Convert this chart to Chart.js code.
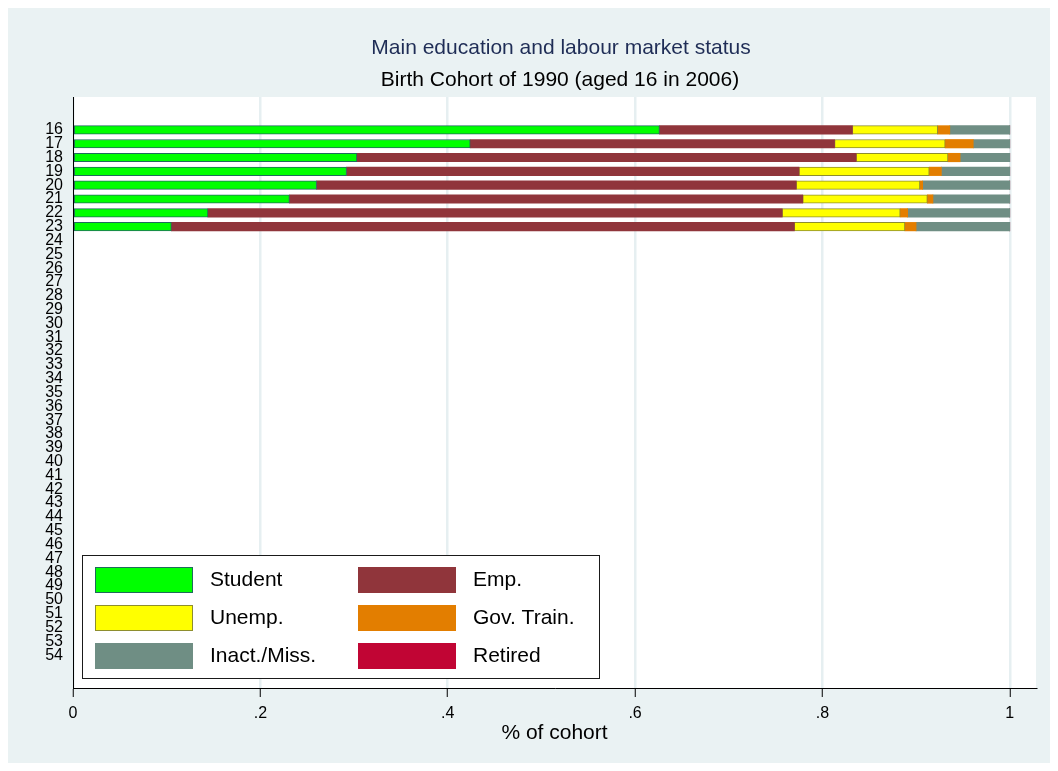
<!DOCTYPE html>
<html>
<head>
<meta charset="utf-8">
<script src="https://cdn.jsdelivr.net/npm/chart.js@4.4.1/dist/chart.umd.min.js"></script>
<style>
  html, body { margin: 0; padding: 0; background: #ffffff; }
  #wrap { width: 1058px; height: 771px; }
</style>
</head>
<body>
<div id="wrap"><canvas id="c" width="1058" height="771"></canvas></div>
<script>
// ---- data ----
const ages = [16, 17, 18, 19, 20, 21, 22, 23];
const student  = [0.626, 0.424, 0.303, 0.292, 0.260, 0.231, 0.144, 0.105];
const emp      = [0.206, 0.389, 0.533, 0.483, 0.512, 0.548, 0.613, 0.665];
const unemp    = [0.091, 0.118, 0.098, 0.139, 0.132, 0.133, 0.126, 0.118];
const govTrain = [0.013, 0.030, 0.013, 0.013, 0.003, 0.006, 0.008, 0.012];
const inact    = [0.064, 0.039, 0.053, 0.073, 0.093, 0.082, 0.109, 0.100];
const retired  = [0, 0, 0, 0, 0, 0, 0, 0];
const ageTickLabels = [16, 17, 18, 19, 20, 21, 22, 23, 24, 25, 26, 27, 28, 29, 30, 31, 32, 33, 34, 35,
                       36, 37, 38, 39, 40, 41, 42, 43, 44, 45, 46, 47, 48, 49, 50, 51, 52, 53, 54];
const xTickValues = [0, 0.2, 0.4, 0.6, 0.8, 1];
const xTickLabels = ['0', '.2', '.4', '.6', '.8', '1'];
const seriesNames = ['Student', 'Emp.', 'Unemp.', 'Gov. Train.', 'Inact./Miss.', 'Retired'];
const titleText = 'Main education and labour market status';
const subtitleText = 'Birth Cohort of 1990 (aged 16 in 2006)';
const xTitle = '% of cohort';

// ---- styles ----
const FONT = '"Liberation Sans", Arial, Helvetica, sans-serif';
const BG = '#EAF2F3';
const fills   = ['#00FF00', '#90353B', '#FFFF00', '#E37E00', '#6F8E84', '#C10534'];
const borders = ['#1F6B5C', '#90353B', '#8E8E2E', '#E37E00', '#6F8E84', '#C10534'];
const bw      = [1, 0, 1, 0, 0, 0];
const seriesData = [student, emp, unemp, govTrain, inact, retired];

const datasets = seriesNames.map((name, i) => ({
  label: name,
  data: seriesData[i],
  backgroundColor: fills[i],
  borderColor: borders[i],
  borderWidth: bw[i],
  borderSkipped: false,
  barThickness: 8.5
}));

const bgPlugin = {
  id: 'bgPlugin',
  beforeDraw(chart) {
    const ctx = chart.ctx, a = chart.chartArea;
    ctx.save();
    ctx.fillStyle = '#ffffff';
    ctx.fillRect(0, 0, chart.width, chart.height);
    ctx.fillStyle = BG;
    ctx.fillRect(8, 8, chart.width - 16, chart.height - 16);
    ctx.fillStyle = '#ffffff';
    ctx.fillRect(a.left, a.top, a.right - a.left, a.bottom - a.top);
    ctx.restore();
  },
  afterDraw(chart) {
    const ctx = chart.ctx;
    ctx.save();
    ctx.textAlign = 'center';
    ctx.textBaseline = 'middle';
    ctx.font = '21px ' + FONT;
    ctx.fillStyle = '#1F2D56';
    ctx.fillText(titleText, 561, 48);
    ctx.fillStyle = '#000000';
    ctx.fillText(subtitleText, 560, 80);
    ctx.restore();
  }
};

const legendPlugin = {
  id: 'boxLegend',
  afterDatasetsDraw(chart) {
    const ctx = chart.ctx, a = chart.chartArea;
    const bx = a.left + 9, by = a.bottom - 133, bwid = 517, bh = 123;
    ctx.save();
    ctx.fillStyle = '#ffffff';
    ctx.fillRect(bx, by, bwid, bh);
    ctx.strokeStyle = '#1a1a1a';
    ctx.lineWidth = 1;
    ctx.strokeRect(bx + 0.5, by + 0.5, bwid, bh);
    ctx.font = '21px ' + FONT;
    ctx.textBaseline = 'middle';
    ctx.textAlign = 'left';
    chart.data.datasets.forEach((ds, i) => {
      const col = i % 2, row = Math.floor(i / 2);
      const sx = bx + 13 + col * 263;
      const sy = by + 12 + row * 38;
      ctx.fillStyle = ds.backgroundColor;
      ctx.fillRect(sx, sy, 98, 26);
      if (ds.borderWidth) {
        ctx.strokeStyle = ds.borderColor;
        ctx.lineWidth = 1;
        ctx.strokeRect(sx + 0.5, sy + 0.5, 97, 25);
      }
      ctx.fillStyle = '#000000';
      ctx.fillText(ds.label, sx + 115, sy + 13);
    });
    ctx.restore();
  }
};

new Chart(document.getElementById('c'), {
  type: 'bar',
  data: { labels: ages, datasets },
  plugins: [bgPlugin, legendPlugin],
  options: {
    indexAxis: 'y',
    responsive: false,
    animation: false,
    devicePixelRatio: 1,
    layout: { padding: { top: 97, left: 0, right: 22, bottom: 0 } },
    plugins: {
      legend: { display: false },
      tooltip: { enabled: false },
      title: { display: false },
      subtitle: { display: false }
    },
    scales: {
      x: {
        type: 'linear',
        stacked: true,
        min: 0,
        max: 1.028,
        offset: false,
        afterBuildTicks(scale) { scale.ticks = xTickValues.map(v => ({ value: v })); },
        afterFit(scale) { scale.height = 83; },
        ticks: {
          autoSkip: false,
          maxRotation: 0,
          color: '#000000',
          padding: 7,
          font: { family: FONT, size: 16 },
          callback: (v) => xTickLabels[xTickValues.indexOf(v)] ?? ''
        },
        grid: {
          display: true,
          drawOnChartArea: true,
          offset: false,
          color: '#E6EFF1',
          lineWidth: 2.5,
          tickColor: '#000000',
          tickWidth: 1,
          tickLength: 9
        },
        border: { display: true, color: '#000000', width: 1 },
        title: {
          display: true,
          text: xTitle,
          color: '#000000',
          font: { family: FONT, size: 21 },
          padding: { top: 0, bottom: 25 }
        }
      },
      y: {
        type: 'linear',
        stacked: true,
        reverse: true,
        offset: false,
        bounds: 'data',
        min: 13.62,
        max: 56.38,
        afterBuildTicks(scale) { scale.ticks = ageTickLabels.map(v => ({ value: v })); },
        afterFit(scale) { scale.width = 73; },
        ticks: {
          autoSkip: false,
          color: '#000000',
          padding: 10,
          font: { family: FONT, size: 16, lineHeight: 1 },
          callback: (v) => String(v)
        },
        grid: { display: false, drawTicks: false, offset: false },
        border: { display: true, color: '#000000', width: 1 }
      }
    }
  }
});
</script>
</body>
</html>
